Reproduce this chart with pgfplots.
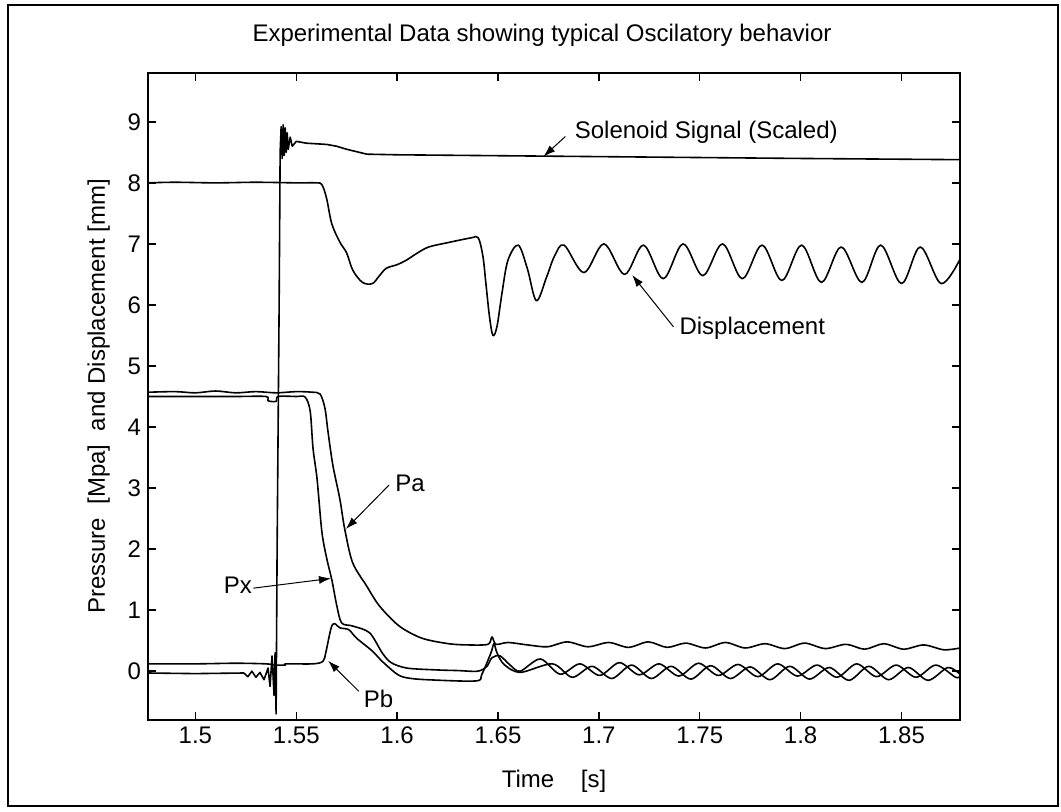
\documentclass[border=0pt]{standalone}
\usepackage{fontspec}
\setmainfont{Liberation Sans}
\usepackage{pgfplots}
\pgfplotsset{compat=1.18}
\usetikzlibrary{arrows.meta}

\begin{document}
\begin{tikzpicture}
\useasboundingbox (0,0) rectangle (530.5pt,405.5pt);
\draw[line width=0.8pt] (4pt,2.5pt) rectangle (529pt,403pt);
\begin{axis}[
    at={(74pt,45.5pt)}, anchor=south west,
    scale only axis,
    width=406pt, height=323.5pt,
    xmin=1.4765, xmax=1.879,
    ymin=-0.8, ymax=9.8,
    xtick={1.5,1.55,1.6,1.65,1.7,1.75,1.8,1.85},
    xticklabels={1.5,1.55,1.6,1.65,1.7,1.75,1.8,1.85},
    ytick={0,1,2,3,4,5,6,7,8,9},
    tick align=inside,
    xtick pos=both, ytick pos=both,
    major tick length=4pt,
    axis line style={line width=0.9pt},
    tick style={line width=0.7pt, black},
    /pgf/number format/assume math mode=true,
    ticklabel style={font=\fontsize{12}{14}\selectfont},
    title={Experimental Data showing typical Oscilatory behavior},
    title style={font=\fontsize{12}{14}\selectfont, at={(0.5,1)}, anchor=center, yshift=13pt, xshift=-6pt},
    xlabel={Time\ \ \ \ [s]},
    xlabel style={font=\fontsize{12}{14}\selectfont, yshift=-6pt},
    ylabel={Pressure\ \ [Mpa]\ \ and Displacement [mm]},
    ylabel style={font=\fontsize{12}{14}\selectfont, yshift=2pt},
    cycle list={{black, no markers}},
    every axis plot/.append style={line width=0.8pt, line join=round},
    clip=true,
]
% solenoid signal (scaled)
\addplot[black, line width=0.8pt] coordinates {
(1.4765,-0.03)(1.500,-0.04)(1.524,-0.03)(1.526,-0.09)(1.528,0.00)(1.530,-0.10)
(1.532,-0.02)(1.534,-0.14)(1.536,0.05)(1.537,-0.25)(1.538,0.25)(1.539,-0.40)
(1.5395,0.30)(1.5400,-0.70)(1.5405,2.0)(1.5415,6.0)(1.5420,8.5)(1.5425,8.92)
(1.5430,8.40)(1.5435,8.95)(1.5440,8.45)(1.5445,8.90)(1.5450,8.50)(1.5455,8.82)
(1.5460,8.55)(1.5470,8.75)(1.5480,8.60)(1.5500,8.68)(1.5550,8.65)(1.5600,8.64)
(1.5650,8.63)(1.5700,8.60)(1.5750,8.55)(1.5800,8.51)(1.5850,8.47)(1.6000,8.46)
(1.7000,8.43)(1.8000,8.40)(1.8790,8.38)
};
% displacement
\addplot[black, line width=0.8pt, smooth, tension=0.55] coordinates {
(1.4765,8.0)(1.49,8.01)(1.51,8.0)(1.53,8.01)(1.55,8.0)(1.5600,8.0)(1.5627,7.97)
(1.5650,7.75)(1.5676,7.33)(1.5716,7.03)(1.5750,6.85)(1.5780,6.57)(1.5828,6.37)
(1.5877,6.35)(1.5910,6.47)(1.5946,6.60)(1.6000,6.66)(1.6044,6.73)(1.6100,6.85)
(1.6157,6.95)(1.6250,7.02)(1.6368,7.10)(1.6402,7.10)(1.6425,6.80)(1.6440,6.35)
(1.6458,5.80)(1.6475,5.50)(1.6495,5.65)(1.6520,6.20)(1.6549,6.73)(1.6600,6.98)
(1.6645,6.60)(1.6690,6.07)(1.6740,6.45)(1.6780,6.80)
(1.6828,6.98)(1.6926,6.53)(1.7025,7.00)(1.7127,6.50)(1.7221,6.98)(1.7319,6.43)
(1.7417,7.00)(1.7515,6.48)(1.7613,7.00)(1.7711,6.43)(1.7809,6.98)(1.7907,6.40)
(1.8005,6.98)(1.8103,6.37)(1.8201,6.95)(1.8304,6.37)(1.8397,6.98)(1.8500,6.35)
(1.8593,6.95)(1.8696,6.35)(1.8790,6.75)
};
% Pa
\addplot[black, line width=0.8pt, smooth, tension=0.5] coordinates {
(1.4765,4.57)(1.49,4.58)(1.50,4.56)(1.51,4.59)(1.52,4.56)(1.53,4.58)(1.54,4.56)
(1.55,4.58)(1.558,4.57)(1.5618,4.54)(1.5642,4.31)(1.5657,3.93)(1.5681,3.38)
(1.5716,2.82)(1.5740,2.33)(1.5779,1.78)(1.5848,1.40)(1.5912,1.07)(1.6010,0.74)
(1.6123,0.54)(1.6255,0.45)(1.6350,0.43)(1.6450,0.44)(1.6470,0.56)(1.6490,0.44)
(1.6550,0.47)(1.6647,0.43)(1.6745,0.40)(1.6843,0.48)(1.6946,0.40)(1.7049,0.47)
(1.7147,0.39)(1.7245,0.48)(1.7338,0.39)(1.7431,0.46)(1.7529,0.38)(1.7627,0.47)
(1.7725,0.38)(1.7824,0.45)(1.7922,0.37)(1.8020,0.46)(1.8122,0.37)(1.8225,0.44)
(1.8318,0.36)(1.8412,0.45)(1.8510,0.36)(1.8610,0.43)(1.8710,0.35)(1.8790,0.38)
};
% Px
\addplot[black, line width=0.8pt, smooth, tension=0.5] coordinates {
(1.4765,4.50)(1.50,4.50)(1.52,4.50)(1.5350,4.50)(1.5360,4.43)(1.5400,4.42)
(1.5410,4.50)(1.5500,4.50)(1.5544,4.49)(1.5569,4.26)(1.5583,3.65)(1.5603,3.15)
(1.5627,2.28)(1.5652,1.83)(1.5676,1.50)(1.5701,1.07)(1.5725,0.79)(1.5779,0.74)
(1.5863,0.63)(1.5926,0.30)(1.5970,0.14)(1.6050,0.05)(1.6200,0.02)(1.6300,0.01)
(1.6400,0.00)(1.6445,0.08)(1.6470,0.22)(1.6510,0.25)(1.6560,0.10)(1.6610,0.00)
(1.6710,0.20)(1.6808,-0.05)(1.6906,0.12)(1.7004,-0.07)(1.7102,0.14)(1.7200,-0.06)
(1.7298,0.12)(1.7396,-0.08)(1.7494,0.13)(1.7592,-0.07)(1.7690,0.11)(1.7788,-0.09)
(1.7886,0.12)(1.7984,-0.08)(1.8082,0.10)(1.8180,-0.10)(1.8278,0.12)(1.8376,-0.09)
(1.8474,0.10)(1.8572,-0.10)(1.8670,0.10)(1.8768,-0.10)(1.8790,-0.08)
};
% Pb
\addplot[black, line width=0.8pt, smooth, tension=0.5] coordinates {
(1.4765,0.12)(1.50,0.12)(1.52,0.13)(1.5350,0.12)(1.5400,0.10)(1.5446,0.10)
(1.5450,0.12)(1.5582,0.12)(1.5632,0.16)(1.5646,0.30)(1.5665,0.60)(1.5676,0.74)
(1.5690,0.78)(1.5716,0.71)(1.5760,0.68)(1.5799,0.54)(1.5877,0.33)(1.5926,0.16)
(1.6000,-0.05)(1.6050,-0.11)(1.6150,-0.14)(1.6390,-0.16)(1.6420,-0.05)(1.6465,0.30)
(1.6480,0.45)(1.6495,0.30)(1.6530,0.11)(1.6610,-0.02)
(1.6770,0.12)(1.6868,-0.10)(1.6966,0.08)(1.7064,-0.12)(1.7162,0.10)(1.7260,-0.12)
(1.7358,0.08)(1.7456,-0.13)(1.7554,0.09)(1.7652,-0.12)(1.7750,0.07)(1.7848,-0.14)
(1.7946,0.08)(1.8044,-0.13)(1.8142,0.06)(1.8240,-0.15)(1.8338,0.08)(1.8436,-0.14)
(1.8534,0.06)(1.8632,-0.15)(1.8730,0.06)(1.8790,-0.05)
};
% annotations
\node[anchor=west, font=\fontsize{12}{14}\selectfont, inner sep=1pt] at (axis cs:1.6869,8.83) {Solenoid Signal (Scaled)};
\draw[-{Latex[length=6pt,width=4pt]}, line width=0.5pt] (axis cs:1.6834,8.76) -- (axis cs:1.6725,8.43);
\node[anchor=west, font=\fontsize{12}{14}\selectfont, inner sep=1pt] at (axis cs:1.7388,5.61) {Displacement};
\draw[-{Latex[length=6pt,width=4pt]}, line width=0.5pt] (axis cs:1.7370,5.64) -- (axis cs:1.7165,6.49);
\node[anchor=west, font=\fontsize{12}{14}\selectfont, inner sep=1pt] at (axis cs:1.5979,3.07) {Pa};
\draw[-{Latex[length=6pt,width=4pt]}, line width=0.5pt] (axis cs:1.5960,3.05) -- (axis cs:1.5746,2.33);
\node[anchor=west, font=\fontsize{12}{14}\selectfont, inner sep=1pt] at (axis cs:1.5129,1.40) {Px};
\draw[-{Latex[length=6pt,width=4pt]}, line width=0.5pt] (axis cs:1.5287,1.36) -- (axis cs:1.5672,1.52);
\node[anchor=west, font=\fontsize{12}{14}\selectfont, inner sep=1pt] at (axis cs:1.5823,-0.45) {Pb};
\draw[-{Latex[length=6pt,width=4pt]}, line width=0.5pt] (axis cs:1.5810,-0.33) -- (axis cs:1.5658,0.17);
\end{axis}
\end{tikzpicture}
\end{document}
